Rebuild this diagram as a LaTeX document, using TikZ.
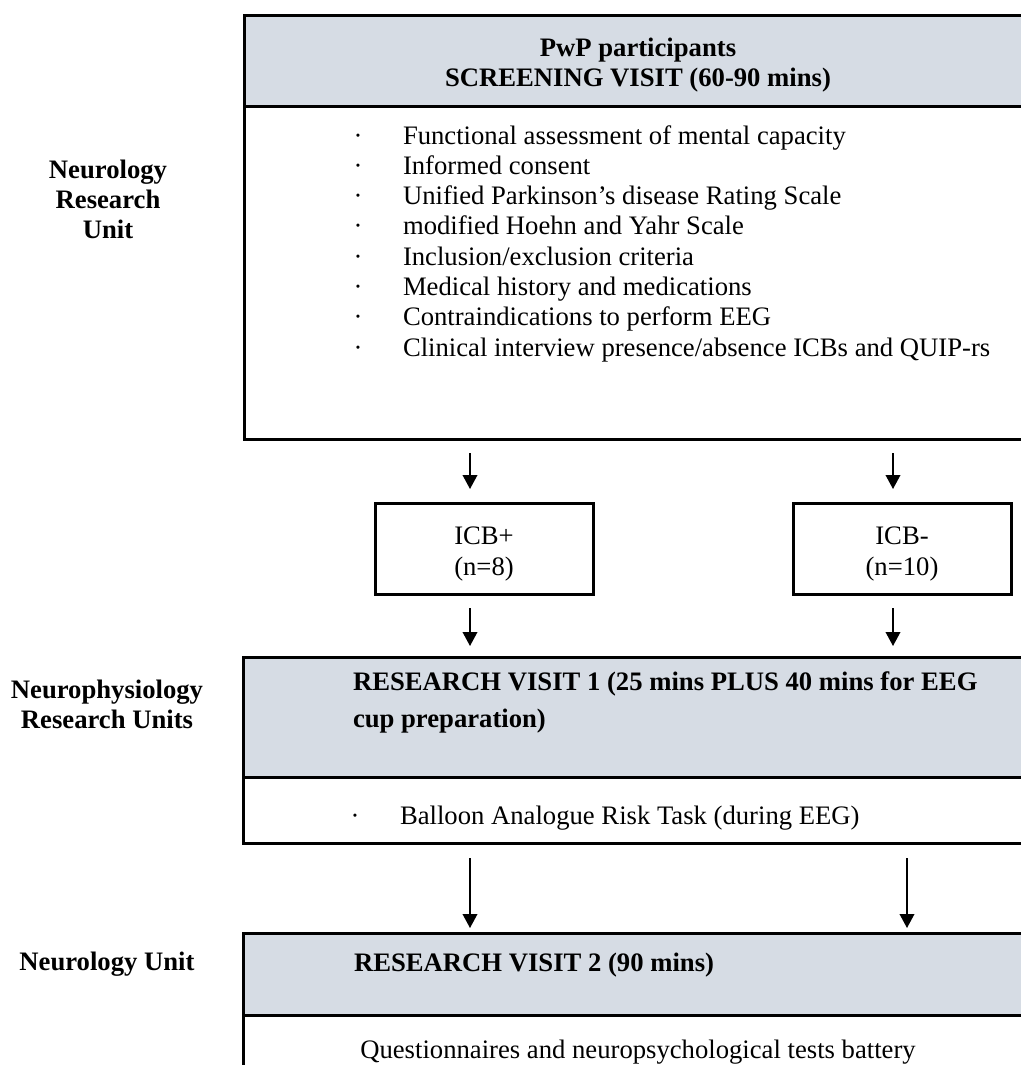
\documentclass[tikz,border=0pt]{standalone}
\usepackage{fontspec}
\setmainfont{Liberation Serif}
\usetikzlibrary{arrows.meta}
\definecolor{headfill}{HTML}{D6DCE4}
\begin{document}
\begin{tikzpicture}[x=0.75pt,y=-0.75pt,
  every node/.style={inner sep=0pt, outer sep=0pt},
  txt/.style={font=\fontsize{20}{24}\selectfont, anchor=base west},
  ctr/.style={font=\fontsize{20}{24}\selectfont, anchor=base},
  hd/.style={font=\fontsize{20}{24}\selectfont\bfseries, anchor=base west},
  hdc/.style={font=\fontsize{20}{24}\selectfont\bfseries, anchor=base},
  boxline/.style={draw=black, line width=2.25pt, rectangle},
  head/.style={boxline, fill=headfill},
  arr/.style={-{Triangle[width=11pt,length=10.5pt]}, line width=1.2pt}]
\useasboundingbox (0,0) rectangle (1021,1065);
\clip (0,0) rectangle (1021,1065);

% screening visit: shaded title band over the checklist panel
\node[head, minimum width=591pt, minimum height=68.25pt] (screenhead) at (638,60.5) {};
\node[boxline, minimum width=591pt, minimum height=249.75pt] (screenbody) at (638,272.5) {};
\node[hdc] (screent1) at (638,56) {PwP participants};
\node[hdc] (screent2) at (638,86) {SCREENING VISIT (60-90 mins)};
\foreach \t [count=\i from 0] in {Functional assessment of mental capacity,
    Informed consent,
    Unified Parkinson’s disease Rating Scale,
    modified Hoehn and Yahr Scale,
    Inclusion/exclusion criteria,
    Medical history and medications,
    Contraindications to perform EEG,
    Clinical interview presence/absence ICBs and QUIP-rs} {
  \node[ctr] (dot\i) at (358,{144+30.3*\i}) {·};
  \node[txt] (item\i) at (403,{144+30.3*\i}) {\t};
}

% group boxes
\node[boxline, minimum width=163.5pt, minimum height=68.25pt] (icbp) at (484,548.5) {};
\node[ctr] (icbpa) at (484,544) {ICB+};
\node[ctr] (icbpb) at (484,575) {(n=8)};
\node[boxline, minimum width=163.5pt, minimum height=68.25pt] (icbm) at (902,548.5) {};
\node[ctr] (icbma) at (902,544) {ICB-};
\node[ctr] (icbmb) at (902,575) {(n=10)};

% research visit 1
\node[head, minimum width=592.5pt, minimum height=90pt] (rv1head) at (638,717) {};
\node[boxline, minimum width=592.5pt, minimum height=49.5pt] (rv1body) at (638,810) {};
\node[hd] (rv1t1) at (353,690) {RESEARCH VISIT 1 (25 mins PLUS 40 mins for EEG};
\node[hd] (rv1t2) at (353,727) {cup preparation)};
\node[ctr] (rv1dot) at (355,824) {·};
\node[txt] (rv1item) at (400,824) {Balloon Analogue Risk Task (during EEG)};

% research visit 2
\node[head, minimum width=592.5pt, minimum height=61.5pt] (rv2head) at (638,974) {};
\node[boxline, minimum width=592.5pt, minimum height=56.25pt] (rv2body) at (638,1052.5) {};
\node[hd] (rv2t) at (354,971) {RESEARCH VISIT 2 (90 mins)};
\node[ctr] (rv2item) at (638,1058) {Questionnaires and neuropsychological tests battery};

% site labels
\node[hdc] (site1a) at (108,178) {Neurology};
\node[hdc] (site1b) at (108,208) {Research};
\node[hdc] (site1c) at (108,238) {Unit};
\node[hdc] (site2a) at (107,698) {Neurophysiology};
\node[hdc] (site2b) at (107,728) {Research Units};
\node[hdc] (site3) at (107,970) {Neurology Unit};

% arrows
\coordinate (a1ls) at (470,453); \coordinate (a1le) at (470,489);
\coordinate (a1rs) at (893,453); \coordinate (a1re) at (893,489);
\coordinate (a2ls) at (470,608); \coordinate (a2le) at (470,646);
\coordinate (a2rs) at (893,608); \coordinate (a2re) at (893,646);
\coordinate (a3ls) at (470,858); \coordinate (a3le) at (470,928);
\coordinate (a3rs) at (907,858); \coordinate (a3re) at (907,928);
\foreach \p in {a1l,a1r,a2l,a2r,a3l,a3r}
  \draw[arr] (\p s) -- (\p e);
\end{tikzpicture}
\end{document}
